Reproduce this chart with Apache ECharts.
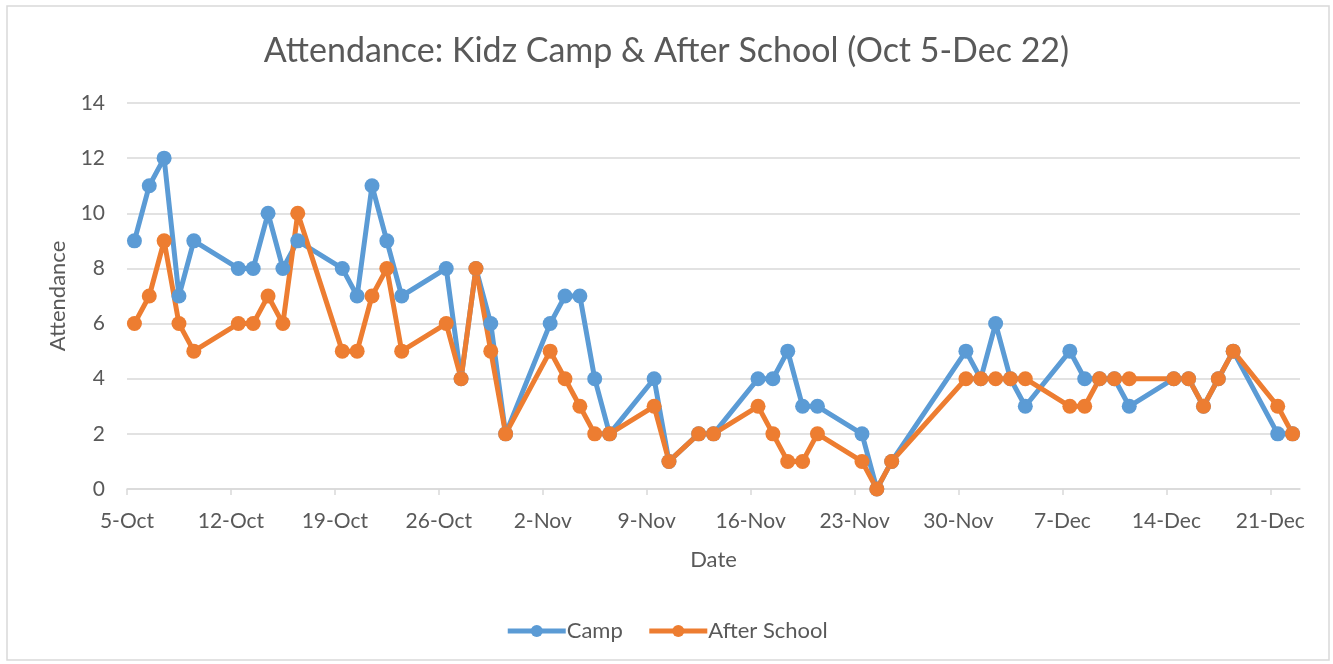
<!DOCTYPE html>
<html>
<head>
<meta charset="utf-8">
<script src="https://cdn.jsdelivr.net/npm/echarts@6/dist/echarts.min.js"></script>
<style>
  html, body { margin: 0; padding: 0; background: #fff; }
  #chart { width: 1333px; height: 664px; }
</style>
</head>
<body>
<div id="chart"></div>
<script>
// school days with attendance (2015)
var dates = [
  "2015-10-05","2015-10-06","2015-10-07","2015-10-08","2015-10-09",
  "2015-10-12","2015-10-13","2015-10-14","2015-10-15","2015-10-16",
  "2015-10-19","2015-10-20","2015-10-21","2015-10-22","2015-10-23",
  "2015-10-26","2015-10-27","2015-10-28","2015-10-29","2015-10-30",
  "2015-11-02","2015-11-03","2015-11-04","2015-11-05","2015-11-06",
  "2015-11-09","2015-11-10","2015-11-12","2015-11-13",
  "2015-11-16","2015-11-17","2015-11-18","2015-11-19","2015-11-20",
  "2015-11-23","2015-11-24","2015-11-25",
  "2015-11-30","2015-12-01","2015-12-02","2015-12-03","2015-12-04",
  "2015-12-07","2015-12-08","2015-12-09","2015-12-10","2015-12-11",
  "2015-12-14","2015-12-15","2015-12-16","2015-12-17","2015-12-18",
  "2015-12-21","2015-12-22"
];
var camp = [
  9, 11, 12, 7, 9,
  8, 8, 10, 8, 9,
  8, 7, 11, 9, 7,
  8, 4, 8, 6, 2,
  6, 7, 7, 4, 2,
  4, 1, 2, 2,
  4, 4, 5, 3, 3,
  2, 0, 1,
  5, 4, 6, 4, 3,
  5, 4, 4, 4, 3,
  4, 4, 3, 4, 5,
  2, 2
];
var afterSchool = [
  6, 7, 9, 6, 5,
  6, 6, 7, 6, 10,
  5, 5, 7, 8, 5,
  6, 4, 8, 5, 2,
  5, 4, 3, 2, 2,
  3, 1, 2, 2,
  3, 2, 1, 1, 2,
  1, 0, 1,
  4, 4, 4, 4, 4,
  3, 3, 4, 4, 4,
  4, 4, 3, 4, 5,
  3, 2
];
var tickLabels = ["5-Oct","12-Oct","19-Oct","26-Oct","2-Nov","9-Nov","16-Nov","23-Nov","30-Nov","7-Dec","14-Dec","21-Dec"];

var startDay = Date.UTC(2015, 9, 5);
var DAY = 86400000;
var totalDays = 79; // axis runs 5-Oct .. end of 22-Dec

// excel date axis puts each point in the middle of its day
function dayPos(d) {
  var p = d.split("-");
  return (Date.UTC(+p[0], +p[1] - 1, +p[2]) - startDay) / DAY + 0.5;
}
function toPoints(vals) {
  return vals.map(function (v, i) { return [dayPos(dates[i]), v]; });
}
var tickVals = tickLabels.map(function (t, i) { return i * 7; });

var font = "Lato, 'Open Sans', sans-serif";
var textColor = "#595959";

var chart = echarts.init(document.getElementById("chart"));
var option = {
  animation: false,
  textStyle: { fontFamily: font },
  graphic: [{
    type: "rect",
    shape: { x: 7, y: 6, width: 1322, height: 654 },
    style: { fill: "none", stroke: "#d9d9d9", lineWidth: 1.5 },
    silent: true
  }],
  title: {
    text: "Attendance: Kidz Camp & After School (Oct 5-Dec 22)",
    left: "center",
    top: 29,
    textStyle: { fontFamily: font, fontSize: 34, fontWeight: "normal", color: textColor }
  },
  legend: {
    data: ["Camp", "After School"],
    left: "center",
    top: 615,
    itemWidth: 58,
    itemHeight: 15,
    itemGap: 24,
    lineStyle: { width: 5 },
    textStyle: { fontFamily: font, fontSize: 22, color: textColor, padding: [0, 0, 0, -4] }
  },
  grid: { left: 127, right: 33, top: 103, bottom: 175, containLabel: false },
  xAxis: {
    type: "value",
    min: 0,
    max: totalDays,
    interval: 7,
    name: "Date",
    nameLocation: "middle",
    nameGap: 60,
    nameTextStyle: { fontFamily: font, fontSize: 22, color: textColor },
    axisLine: { show: true, lineStyle: { color: "#d9d9d9", width: 1.5 } },
    axisTick: { show: true, length: 6, inside: false, customValues: tickVals, lineStyle: { color: "#d9d9d9", width: 1.5 } },
    splitLine: { show: false },
    axisLabel: {
      customValues: tickVals,
      margin: 22,
      fontFamily: font,
      fontSize: 21,
      color: textColor,
      formatter: function (v) { return tickLabels[Math.round(v / 7)] || ""; }
    }
  },
  yAxis: {
    type: "value",
    min: 0,
    max: 14,
    interval: 2,
    name: "Attendance",
    nameLocation: "middle",
    nameGap: 58,
    nameTextStyle: { fontFamily: font, fontSize: 22, color: textColor },
    axisLine: { show: false },
    axisTick: { show: false },
    splitLine: { lineStyle: { color: "#d9d9d9", width: 1.5 } },
    axisLabel: { margin: 22, fontFamily: font, fontSize: 21, color: textColor }
  },
  series: [
    {
      name: "Camp",
      type: "line",
      data: toPoints(camp),
      symbol: "circle",
      symbolSize: 15,
      color: "#5b9bd5",
      lineStyle: { width: 5, color: "#5b9bd5" },
      itemStyle: { color: "#5b9bd5" }
    },
    {
      name: "After School",
      type: "line",
      data: toPoints(afterSchool),
      symbol: "circle",
      symbolSize: 15,
      color: "#ed7d31",
      lineStyle: { width: 5, color: "#ed7d31" },
      itemStyle: { color: "#ed7d31" }
    }
  ]
};
chart.setOption(option);
</script>
</body>
</html>
